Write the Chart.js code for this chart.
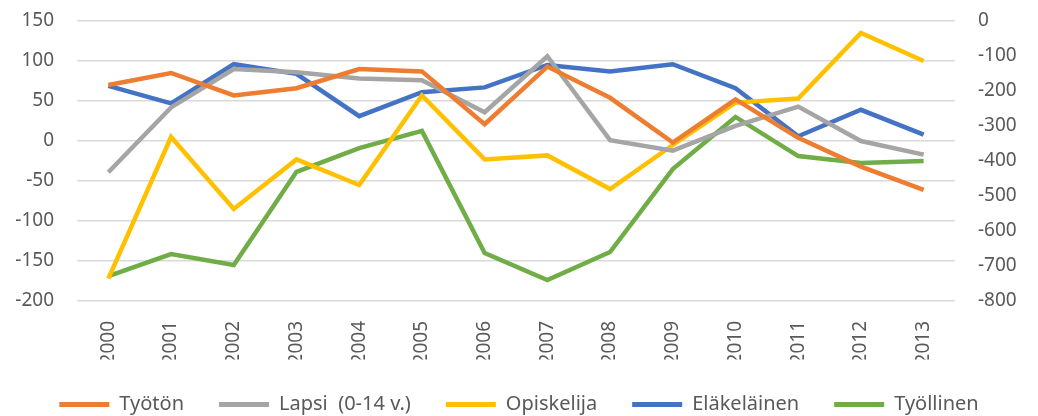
<!DOCTYPE html>
<html>
<head>
<meta charset="utf-8">
<script src="https://cdn.jsdelivr.net/npm/chart.js@4"></script>
<style>
  html, body { margin: 0; padding: 0; background: #fff; }
  #wrap { width: 1038px; height: 416px; }
</style>
</head>
<body>
<div id="wrap"><canvas id="chart" width="1038" height="416"></canvas></div>
<script>
        const years = ['2000', '2001', '2002', '2003', '2004', '2005', '2006', '2007', '2008', '2009', '2010', '2011', '2012', '2013'];
        const tyoton = [70, 85, 57, 66, 90, 87, 21, 93, 54, -2, 52, 4, -32, -61];
        const lapsi = [-39, 42, 90, 86, 78, 76, 36, 106, 1, -12, 19, 43, 0, -17];
        const opiskelija = [-172, 5, -85, -23, -55, 57, -23, -18, -60, -5, 48, 53, 135, 100];
        const elakelainen = [69, 47, 96, 84, 31, 61, 67, 95, 87, 96, 66, 6, 39, 8];
        const tyollinen = [-729, -666, -697, -431, -363, -314, -663, -740, -660, -423, -274, -386, -406, -400];

        const tickColor = '#595959';
        const gridColor = '#d9d9d9';
        const fontName = 'Noto Sans';

        function line(label, data, color, axis) {
            return {
                label: label,
                data: data,
                borderColor: color,
                backgroundColor: color,
                borderWidth: 4.5,
                pointRadius: 0,
                tension: 0,
                yAxisID: axis
            };
        }

        // pull the legend a bit lower without losing the item spacing
        const legendShift = {
            id: 'legendShift',
            beforeInit(chart) {
                const fit = chart.legend.fit;
                chart.legend.fit = function () {
                    fit.bind(chart.legend)();
                    this.height -= 8.5;
                };
            }
        };

        // y axes: fixed width, no extra top/bottom padding from tick labels
        function fixY(width) {
            return function (s) {
                s.width = width;
                s.paddingTop = 0;
                s.paddingBottom = 0;
            };
        }

        const ctx = document.getElementById('chart');
        new Chart(ctx, {
            type: 'line',
            data: {
                labels: years,
                datasets: [
                    line('Työtön', tyoton, '#ED7D31', 'y'),
                    line('Lapsi  (0-14 v.)', lapsi, '#A5A5A5', 'y'),
                    line('Opiskelija', opiskelija, '#FFC000', 'y'),
                    line('Eläkeläinen', elakelainen, '#4472C4', 'y'),
                    line('Työllinen', tyollinen, '#70AD47', 'y1')
                ]
            },
            plugins: [legendShift],
            options: {
                responsive: false,
                animation: false,
                layout: { padding: { top: 21, bottom: 0, left: 0, right: 0 } },
                plugins: {
                    tooltip: { enabled: false },
                    legend: {
                        position: 'bottom',
                        labels: {
                            color: tickColor,
                            font: { family: fontName, size: 20 },
                            boxWidth: 50,
                            boxHeight: 5,
                            padding: 35,
                            generateLabels: function (chart) {
                                return Chart.defaults.plugins.legend.labels.generateLabels(chart).map(function (l) {
                                    l.lineWidth = 0;
                                    return l;
                                });
                            }
                        }
                    }
                },
                scales: {
                    x: {
                        offset: true,
                        grid: { display: false },
                        border: { display: false },
                        ticks: {
                            color: tickColor,
                            font: { family: fontName, size: 19 },
                            maxRotation: 90,
                            minRotation: 90,
                            padding: 12
                        },
                        afterFit: function (s) { s.height = 58.5; }
                    },
                    y: {
                        position: 'left',
                        min: -200,
                        max: 150,
                        ticks: {
                            stepSize: 50,
                            color: tickColor,
                            font: { family: fontName, size: 19 },
                            padding: 23
                        },
                        grid: { color: gridColor, lineWidth: 1.5, drawTicks: false },
                        border: { display: false },
                        afterFit: fixY(77)
                    },
                    y1: {
                        position: 'right',
                        min: -800,
                        max: 0,
                        ticks: {
                            stepSize: 100,
                            color: tickColor,
                            font: { family: fontName, size: 19 },
                            padding: 23
                        },
                        grid: { display: false, drawTicks: false },
                        border: { display: false },
                        afterFit: fixY(83)
                    }
                }
            }
        });
</script>
</body>
</html>
